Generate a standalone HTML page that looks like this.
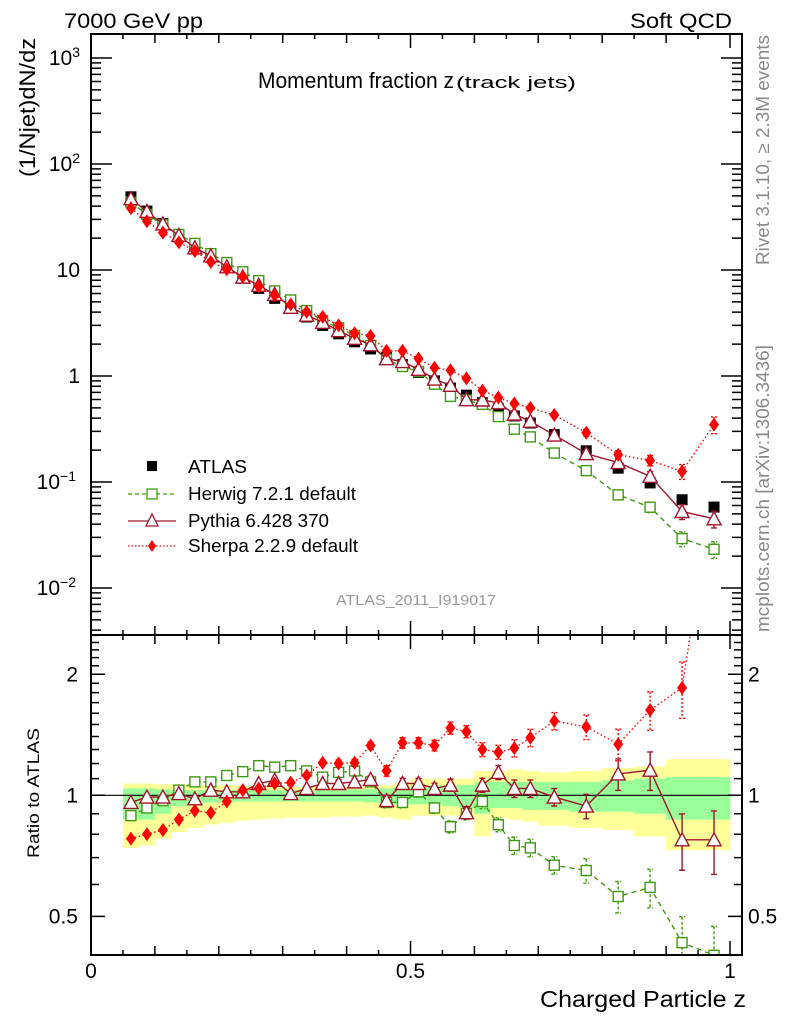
<!DOCTYPE html>
<html><head><meta charset="utf-8"><style>
body{margin:0;background:#fff;}
svg{display:block;font-family:"Liberation Sans",Arial,sans-serif;}
</style></head><body>
<svg id="chart" width="786" height="1024" viewBox="0 0 786 1024" xmlns="http://www.w3.org/2000/svg">
<defs>
<clipPath id="clipMain"><rect x="91" y="34" width="651" height="601"/></clipPath>
<clipPath id="clipRatio"><rect x="91" y="635" width="651" height="320"/></clipPath>
</defs>
<text x="64" y="28" font-size="21" textLength="139" lengthAdjust="spacingAndGlyphs">7000 GeV pp</text>
<text x="630" y="28" font-size="21" textLength="102" lengthAdjust="spacingAndGlyphs">Soft QCD</text>
<text x="258" y="88" font-size="22" textLength="196" lengthAdjust="spacingAndGlyphs">Momentum fraction z</text>
<text x="456" y="88" font-size="17" textLength="120" lengthAdjust="spacingAndGlyphs">(track jets)</text>
<text transform="translate(35,177) rotate(-90)" font-size="22" textLength="139" lengthAdjust="spacingAndGlyphs">(1/Njet)dN/dz</text>
<text transform="translate(39,858) rotate(-90)" font-size="17" textLength="130" lengthAdjust="spacingAndGlyphs">Ratio to ATLAS</text>
<text x="540" y="1007" font-size="23" textLength="206" lengthAdjust="spacingAndGlyphs">Charged Particle z</text>
<text transform="translate(769,265) rotate(-90)" font-size="18" fill="#888" textLength="230" lengthAdjust="spacingAndGlyphs">Rivet 3.1.10, ≥ 2.3M events</text>
<text transform="translate(769,632) rotate(-90)" font-size="18" fill="#888" textLength="287" lengthAdjust="spacingAndGlyphs">mcplots.cern.ch [arXiv:1306.3436]</text>
<text x="336" y="605" font-size="15" fill="#999" textLength="160" lengthAdjust="spacingAndGlyphs">ATLAS_2011_I919017</text>
<g id="bands" clip-path="url(#clipRatio)"></g>
<g id="ratio" clip-path="url(#clipRatio)"></g>
<g id="main" clip-path="url(#clipMain)"></g>
<g id="axes"></g>
<g id="legend">
 <rect x="147" y="461" width="10" height="10" fill="#000"/>
 <text x="188" y="473" font-size="18" textLength="59" lengthAdjust="spacingAndGlyphs">ATLAS</text>
 <line x1="128" y1="494" x2="176" y2="494" stroke="#3f9a10" stroke-width="1.3" stroke-dasharray="4,3"/>
 <rect x="147" y="489" width="10" height="10" fill="#fff" stroke="#3f9a10" stroke-width="1.3"/>
 <text x="188" y="500" font-size="18" textLength="168" lengthAdjust="spacingAndGlyphs">Herwig 7.2.1 default</text>
 <line x1="128" y1="521" x2="176" y2="521" stroke="#a0142a" stroke-width="1.3"/>
 <path d="M152,514 L158,526 L146,526 Z" fill="#fff" stroke="#a0142a" stroke-width="1.3"/>
 <text x="188" y="527" font-size="18" textLength="141" lengthAdjust="spacingAndGlyphs">Pythia 6.428 370</text>
 <line x1="128" y1="546" x2="176" y2="546" stroke="#f00" stroke-width="1.3" stroke-dasharray="1.5,2"/>
 <path d="M152,540 L156,546 L152,552 L148,546 Z" fill="#f00"/>
 <text x="188" y="552" font-size="18" textLength="170" lengthAdjust="spacingAndGlyphs">Sherpa 2.2.9 default</text>
</g>
</svg>
<script>
const binEdges=[0.05,0.075,0.1,0.125,0.15,0.175,0.2,0.225,0.25,0.275,0.3,0.325,0.35,0.375,0.4,0.425,0.45,0.475,0.5,0.525,0.55,0.575,0.6,0.625,0.65,0.675,0.7,0.75,0.8,0.85,0.9,0.95,1.0];
const atlasVals=[49,36,27.5,21,16.5,13.2,10.5,8.4,6.7,5.4,4.4,3.6,3.0,2.5,2.1,1.8,1.5,1.28,1.08,0.9,0.77,0.66,0.56,0.49,0.42,0.36,0.28,0.197,0.135,0.098,0.068,0.058];
const herwigRatio=[0.89,0.93,0.97,1.03,1.08,1.08,1.12,1.145,1.185,1.175,1.185,1.15,1.11,1.14,1.15,1.08,0.96,0.96,1.02,0.93,0.835,0.90,0.965,0.845,0.75,0.74,0.67,0.65,0.56,0.59,0.43,0.40];
const pythiaRatio=[0.96,0.99,0.99,1.01,0.98,1.03,1.02,1.02,1.07,1.09,1.01,1.04,1.07,1.07,1.08,1.095,0.97,1.07,1.07,1.04,1.06,0.905,1.06,1.14,1.04,1.04,0.99,0.94,1.13,1.155,0.775,0.775];
const sherpaRatio=[0.78,0.80,0.82,0.87,0.915,0.905,0.965,1.03,1.04,1.07,1.075,1.12,1.205,1.2,1.205,1.33,1.15,1.35,1.35,1.33,1.47,1.44,1.30,1.28,1.31,1.39,1.53,1.48,1.34,1.63,1.85,6.0];
const mcRelErr=[0.01,0.01,0.01,0.01,0.01,0.01,0.01,0.01,0.01,0.01,0.015,0.015,0.015,0.02,0.02,0.02,0.03,0.03,0.03,0.03,0.035,0.035,0.04,0.04,0.05,0.05,0.05,0.07,0.09,0.11,0.16,0.18];
const yellowHi=[1.07,1.07,1.065,1.065,1.06,1.06,1.06,1.055,1.055,1.05,1.05,1.05,1.05,1.05,1.05,1.05,1.06,1.08,1.1,1.1,1.1,1.1,1.15,1.15,1.16,1.15,1.14,1.15,1.17,1.18,1.23,1.23];
const yellowLo=[0.74,0.75,0.78,0.81,0.83,0.845,0.855,0.865,0.87,0.875,0.88,0.88,0.88,0.885,0.885,0.89,0.88,0.87,0.89,0.89,0.89,0.88,0.79,0.88,0.87,0.86,0.84,0.83,0.82,0.79,0.73,0.73];
const greenHi=[1.04,1.04,1.035,1.03,1.03,1.03,1.03,1.03,1.03,1.03,1.03,1.03,1.03,1.03,1.035,1.035,1.04,1.05,1.06,1.06,1.06,1.06,1.08,1.08,1.08,1.08,1.08,1.08,1.09,1.1,1.11,1.11];
const greenLo=[0.87,0.87,0.9,0.94,0.95,0.96,0.96,0.965,0.965,0.965,0.965,0.965,0.965,0.965,0.965,0.96,0.95,0.95,0.95,0.95,0.94,0.93,0.9,0.93,0.93,0.92,0.92,0.91,0.91,0.9,0.87,0.87];
const mainTickLabels=["10<tspan font-size='14' dy='-8'>3</tspan>","10<tspan font-size='14' dy='-8'>2</tspan>","10","1","10<tspan font-size='14' dy='-8'>−1</tspan>","10<tspan font-size='14' dy='-8'>−2</tspan>"];
const mainTickVals=[1000,100,10,1,0.1,0.01];
const ratioTickVals=[2,1,0.5];
const ratioTickLabels=["2","1","0.5"];
const xTickVals=[0,0.5,1];
const xTickLabels=["0","0.5","1"];

const NS="http://www.w3.org/2000/svg";
const X0=91,X1=742,ZX0=91,ZSC=639;
const xs=z=>ZX0+z*ZSC;
const yM=v=>376-106*Math.log10(v);
const yR=r=>795.3-402*Math.log10(r);
function mk(parent,tag,attrs){const e=document.createElementNS(NS,tag);for(const k in attrs)e.setAttribute(k,attrs[k]);parent.appendChild(e);return e;}
const gB=document.getElementById('bands'),gR=document.getElementById('ratio'),gM=document.getElementById('main'),gA=document.getElementById('axes');
const centers=atlasVals.map((v,i)=>(binEdges[i]+binEdges[i+1])/2);

atlasVals.forEach((v,i)=>{
 const x=xs(binEdges[i]),w=xs(binEdges[i+1])-x;
 let r=mk(gB,'rect',{x:x,y:yR(yellowHi[i]),width:w+0.5,height:yR(yellowLo[i])-yR(yellowHi[i]),fill:'#ffff99'});
 
 
 r=mk(gB,'rect',{x:x,y:yR(greenHi[i]),width:w+0.5,height:yR(greenLo[i])-yR(greenHi[i]),fill:'#99ff99'});
 
 
});
let ref=mk(gB,'line',{x1:X0,x2:X1,y1:yR(1),y2:yR(1),stroke:'#000','stroke-width':1.2});



function marker(g,type,x,y,col){
 let e;
 if(type==='sq')e=mk(g,'rect',{x:x-5,y:y-5,width:10,height:10,fill:'#fff',stroke:col,'stroke-width':1.4});
 else if(type==='tri')e=mk(g,'path',{d:`M${x},${y-7} L${x+7},${y+6} L${x-7},${y+6} Z`,fill:'#fff',stroke:col,'stroke-width':1.4});
 else if(type==='dia')e=mk(g,'path',{d:`M${x},${y-7} L${x+5},${y} L${x},${y+7} L${x-5},${y} Z`,fill:col});
 else e=mk(g,'rect',{x:x-5.5,y:y-5.5,width:11,height:11,fill:'#000'});
 return e;
}
const series=[
 {name:'herwig',r:herwigRatio,col:'#3f9a10',dash:'5,4',m:'sq'},
 {name:'pythia',r:pythiaRatio,col:'#a0142a',dash:'',m:'tri'},
 {name:'sherpa',r:sherpaRatio,col:'#ff0000',dash:'1.5,2.5',m:'dia'}
];
function drawSeries(g,s,yf,valf){
 const pts=centers.map((z,i)=>[xs(z),yf(valf(i))]);
 const pl=mk(g,'polyline',{points:pts.map(p=>p.join(',')).join(' '),fill:'none',stroke:s.col,'stroke-width':1.4});
 if(s.dash)pl.setAttribute('stroke-dasharray',s.dash);
 
 
 centers.forEach((z,i)=>{
  const v=valf(i),x=xs(z),e=mcRelErr[i];
  const y1=yf(v*(1+e)),y2=yf(v*(1-e));
  if(y2-y1>4){
   const eb=mk(g,'path',{d:`M${x},${y1}V${y2}M${x-3},${y1}H${x+3}M${x-3},${y2}H${x+3}`,stroke:s.col,'stroke-width':1.4,fill:'none'});
   if(s.dash)eb.setAttribute('stroke-dasharray',s.dash==='5,4'?'3,2':'2,2');
   
   
  }
  const mm=marker(g,s.m,x,yf(v),s.col);
  
  
 });
}
centers.forEach((z,i)=>{
 const m=marker(gM,'atlas',xs(z),yM(atlasVals[i]));
 
 
});
series.forEach(s=>drawSeries(gM,s,yM,i=>atlasVals[i]*s.r[i]));
series.forEach(s=>drawSeries(gR,s,yR,i=>s.r[i]));

let f=mk(gA,'rect',{x:X0,y:34,width:X1-X0,height:601,fill:'none',stroke:'#000','stroke-width':2});


f=mk(gA,'rect',{x:X0,y:635,width:X1-X0,height:320,fill:'none',stroke:'#000','stroke-width':2});


let d='';
for(let k=0;k<=20;k++){const z=k*0.05,x=xs(z);const L=(k%10===0)?14:(k%2===0?9:5);
 [34,635,955].forEach(yy=>{d+=`M${x},${yy}V${yy-(yy===34?-L:L)}`;});
 d+=`M${x},635V${635+L}`;}
for(let e=-3;e<=3;e++)for(let m=1;m<10;m++){const v=m*Math.pow(10,e),y=yM(v);if(y<34||y>635)continue;const L=m===1?21:10;d+=`M${X0},${y}H${X0+L}M${X1},${y}H${X1-L}`;}
for(let r=0.4;r<=2.51;r+=0.1){const y=yR(r);if(y<635||y>955)continue;const maj=Math.abs(r-1)<1e-6||Math.abs(r-2)<1e-6||Math.abs(r-0.5)<1e-6;const L=maj?14:8;d+=`M${X0},${y}H${X0+L}M${X1},${y}H${X1-L}`;}
let t=mk(gA,'path',{d:d,stroke:'#000','stroke-width':1.5,fill:'none'});


mainTickVals.forEach((v,i)=>{
 const el=mk(gA,'text',{x:80,y:yM(v)+7,'font-size':21,'text-anchor':'end'});
 el.innerHTML=mainTickLabels[i];
 if(v<1){el.setAttribute('x',76);}
 
 
});
ratioTickVals.forEach((v,i)=>{
 let el=mk(gA,'text',{x:78,y:yR(v)+7,'font-size':21,'text-anchor':'end'});el.textContent=ratioTickLabels[i];
 
 
 el=mk(gA,'text',{x:748,y:yR(v)+7,'font-size':21});el.textContent=ratioTickLabels[i];
 
 
});
xTickVals.forEach((v,i)=>{
 const el=mk(gA,'text',{x:xs(v),y:978,'font-size':21,'text-anchor':'middle'});el.textContent=xTickLabels[i];
 
 
});
</script>
</body></html>
